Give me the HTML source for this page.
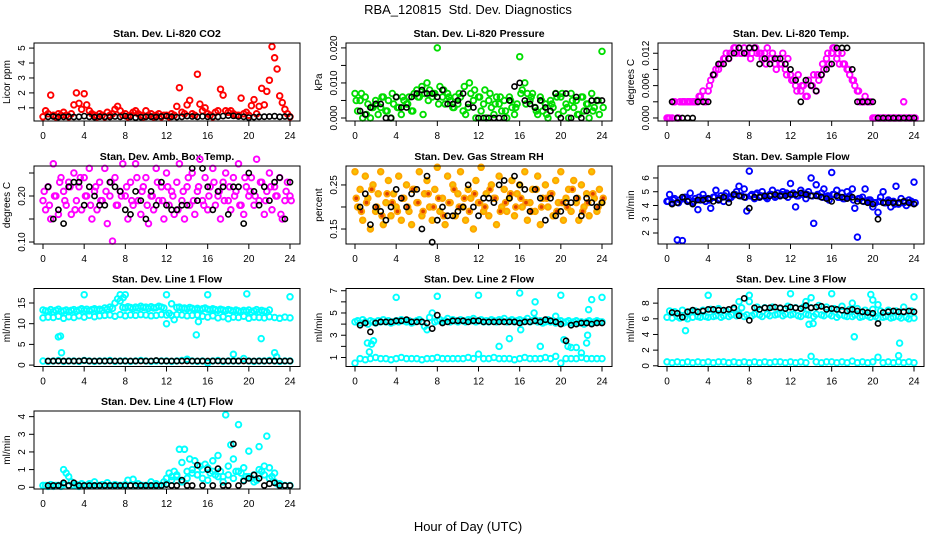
<!DOCTYPE html>
<html><head><meta charset="utf-8">
<style>
html,body{margin:0;padding:0;background:#fff;}
svg{display:block;font-family:"Liberation Sans",Arial,sans-serif;}
</style></head>
<body>
<svg id="chart" width="936" height="540" viewBox="0 0 936 540" xmlns="http://www.w3.org/2000/svg">
<rect x="0" y="0" width="936" height="540" fill="#fff"/>
<text x="468" y="14" text-anchor="middle" font-size="13" xml:space="preserve">RBA_120815&#160; Std. Dev. Diagnostics</text>
<text x="468" y="531" text-anchor="middle" font-size="13">Hour of Day (UTC)</text>
</svg>
<script>
// ---- data arrays ----
const xTicks = [0,4,8,12,16,20,24];
const co2Red = [.4,.8,.6,1.85,.5,.4,.6,.5,.7,.5,.4,.6,1.2,2.0,1.3,.9,1.95,1.2,.8,.6,.5,.4,.6,.5,.4,.7,.5,.6,.9,1.1,.8,.5,.6,.4,.5,.7,.8,.6,.5,.4,.8,.5,.6,.4,.5,.6,.4,.5,.5,.4,.6,.5,1.1,2.35,.7,.6,1.2,1.5,.6,.5,3.25,1.25,.8,1.0,.6,.5,.4,.7,.8,2.25,1.85,.8,.7,.8,.6,.5,.5,1.65,.6,.7,.5,1.15,1.55,.6,1.1,2.3,1.2,2.1,2.85,5.1,4.35,3.6,1.8,1.35,.9,.6,.4];
const co2Black = [.4,.42,.38,.4,.41,.39,.4,.45,.4,.38,.41,.4,.39,.42,.4,.45,.4,.35,.38,.4,.41,.39,.42,.45,.4,.38,.4,.45,.42,.4,.43,.4,.41,.4,.45,.48,.46,.42,.4,.35,.38,.4,.41,.42,.44,.4,.42,.4];
const presGreen = [.007,.002,.005,0,.006,.004,0,.003,.005,.001,.003,.006,.002,.005,0,.004,.006,.003,.001,.005,.004,.006,.002,.007,.008,.006,.009,.007,.010,.008,.006,.007,.020,.009,.006,.004,.007,.005,.003,.006,.004,.006,.002,.001,.003,.007,.005,0,.006,.002,.004,0,.005,.003,.001,.006,.004,.002,.005,0,.006,.003,.001,.004,.0175,.008,.010,.007,.005,.007,.003,.001,.006,.002,.004,0,.005,.003,.007,.001,.006,.002,.004,0,.007,.003,.005,.001,.006,.002,.004,0,.007,.003,.005,.001,.019];
const presGreen2 = [.005,.007,.001,.003,.004,.006,.002,.007,.003,.006,.004,.002,.006,.001,.005,.007,.004,.008,.006,.003,.007,.009,.010,.008,.006,.008,.007,.004,.006,.002,.005,.003,.007,.004,.006,.002,.005,.001,.004,.006,.007,.003,.005,.001,.006,.004,.002,.005,.003];
const presBlack = [.002,.001,.003,.004,.004,0,0,.006,.003,.003,.006,.007,.008,.007,.007,.006,.008,.004,.004,.005,.007,.004,.003,0,0,0,0,0,0,.005,.009,.010,.005,.004,.003,.005,.003,.002,.007,0,.007,0,.006,0,.002,.005,.005,.005];
const tempMag = [0,0,0,.003,0,.003,.003,.003,.003,.003,.003,.003,.003,.004,.005,.003,.005,.007,.008,.009,.009,.010,.011,.012,.011,.012,.013,.012,.013,.012,.013,.012,.013,.012,.013,.012,.012,.011,.012,.013,.011,.012,.010,.011,.010,.012,.009,.011,.008,.007,.006,.008,.005,.006,.004,.007,.006,.008,.005,.007,.008,.009,.011,.010,.012,.013,.011,.010,.012,.010,.009,.008,.007,.006,.005,.003,.003,.004,.003,.003,0,0,0,0,0,0,0,0,0,0,0,0,.003,0,0,0,0];
const tempMag2 = [0,.003,0,.003,.003,.003,.004,.003,.006,.008,.010,.011,.012,.013,.012,.012,.011,.013,.012,.010,.011,.009,.010,.008,.007,.005,.006,.004,.006,.008,.010,.012,.013,.012,.010,.009,.007,.005,.003,.003,0,0,0,0,0,0,0,0,0];
const tempBlack = [.003,0,0,0,0,.003,.003,.003,.008,.010,.010,.011,.012,.013,.012,.013,.013,.010,.011,.010,.011,.011,.010,.009,.007,.003,.007,.006,.005,.008,.009,.010,.013,.013,.013,.009,.003,.003,.003,.003,0,0,0,0,0,0,0,0];
const ambMag = [.19,.17,.22,.15,.27,.2,.16,.24,.21,.18,.23,.16,.25,.19,.22,.17,.24,.2,.26,.15,.21,.17,.23,.19,.26,.14,.2,.102,.24,.18,.21,.27,.2,.15,.23,.18,.27,.19,.16,.22,.24,.14,.2,.17,.26,.19,.22,.15,.25,.18,.21,.16,.23,.27,.19,.15,.22,.18,.25,.16,.21,.28,.19,.24,.17,.22,.26,.18,.2,.15,.23,.25,.19,.17,.24,.21,.27,.18,.16,.22,.2,.24,.18,.28,.19,.23,.16,.21,.25,.17,.22,.2,.24,.15,.19,.23,.2];
const ambMag2 = [.21,.18,.2,.23,.19,.22,.17,.24,.2,.18,.22,.19,.21,.23,.18,.2,.22,.19,.24,.21,.18,.2,.23,.19,.22,.2,.17,.21,.24,.19,.22,.18,.2,.23,.21,.19,.22,.2,.18,.24,.21,.2,.23,.19,.22,.2,.16,.21,.19];
const ambBlack = [.22,.15,.17,.14,.22,.23,.23,.18,.22,.20,.18,.18,.23,.22,.21,.17,.16,.21,.19,.15,.21,.18,.23,.18,.17,.17,.18,.18,.26,.19,.26,.22,.17,.21,.22,.16,.22,.22,.14,.25,.21,.18,.22,.19,.23,.24,.15,.23];
const rhOrange = [.28,.2,.24,.17,.27,.22,.15,.25,.19,.23,.28,.16,.21,.26,.18,.23,.2,.27,.17,.22,.25,.19,.16,.24,.21,.28,.18,.23,.26,.2,.17,.24,.29,.19,.22,.16,.27,.21,.25,.18,.23,.28,.2,.17,.24,.22,.15,.26,.21,.29,.19,.23,.18,.25,.22,.16,.27,.2,.24,.19,.22,.26,.18,.23,.25,.2,.28,.17,.21,.24,.19,.27,.16,.22,.25,.2,.23,.18,.26,.21,.28,.17,.22,.24,.19,.26,.21,.17,.25,.2,.23,.18,.28,.22,.19,.24,.21];
const rhOrange2 = [.22,.19,.21,.24,.2,.18,.23,.21,.19,.22,.2,.24,.21,.19,.23,.2,.22,.18,.21,.24,.2,.22,.19,.23,.21,.2,.24,.22,.19,.21,.23,.2,.22,.21,.19,.24,.2,.22,.23,.19,.21,.2,.24,.22,.19,.21,.23,.2,.22];
const rhBlack = [.2,.23,.16,.2,.19,.17,.2,.24,.22,.2,.23,.24,.15,.27,.12,.17,.2,.18,.18,.19,.2,.25,.2,.18,.22,.22,.21,.25,.26,.22,.27,.25,.24,.19,.24,.22,.17,.22,.18,.19,.21,.21,.22,.18,.22,.21,.2,.21];
const flowBlue = [4.3,4.8,4.2,4.5,1.5,4.4,1.45,4.6,4.3,4.9,4.2,4.5,3.7,4.4,4.8,4.3,4.5,3.8,4.6,5.1,4.4,4.7,4.3,4.9,4.5,4.6,4.8,5.0,5.4,4.7,5.2,3.6,6.5,4.8,4.5,4.9,4.6,5.0,4.7,4.5,4.8,5.1,4.6,4.9,4.7,5.0,4.8,4.6,5.6,4.9,3.9,4.7,5.1,4.8,4.5,5.0,6.0,2.7,5.5,4.7,4.9,5.2,4.6,4.4,6.4,4.8,5.1,4.6,4.9,4.5,5.0,4.7,5.2,3.8,1.7,4.5,4.6,5.2,4.3,4.4,3.9,4.2,3.5,4.6,5.0,4.2,4.4,3.9,4.3,5.4,4.1,4.5,4.2,4.0,4.4,4.3,5.7];
const flowBlue2 = [4.3,4.4,4.2,4.5,4.4,4.3,4.6,4.5,4.4,4.6,4.5,4.7,4.6,4.8,4.7,4.6,4.7,4.8,4.7,4.6,4.8,4.7,4.8,4.9,4.8,4.7,4.9,4.8,4.7,4.8,4.6,4.7,4.8,4.6,4.5,4.6,4.4,4.5,4.3,4.4,4.2,4.3,4.2,4.3,4.1,4.2,4.3,4.2,4.2];
const flowBlack = [4.1,4.2,4.6,4.3,4.1,4.4,4.4,4.5,4.3,4.4,4.6,4.2,4.8,4.7,4.6,3.8,4.6,4.6,4.7,4.7,4.8,4.7,4.7,4.8,4.8,4.9,4.8,4.7,4.7,4.6,4.5,4.3,4.7,4.6,4.5,4.6,4.3,4.3,4.2,4.1,3.0,4.2,4.2,4.2,4.2,4.3,4.2,4.1];
const l1Upper = [13.3,13.1,13.0,13.4,12.9,13.2,13.5,13.0,13.1,13.3,12.9,13.2,13.4,13.0,13.3,13.6,13.2,13.5,13.1,13.4,13.6,13.3,13.5,13.2,13.8,13.5,14.0,13.7,15.0,16.0,17.0,13.9,13.8,14.1,13.9,13.7,14.0,13.8,14.2,13.9,14.0,13.7,14.1,13.8,13.9,14.2,14.0,13.8,10.0,12.5,14.8,11.0,13.9,14.0,13.7,13.8,13.6,13.9,13.7,13.5,13.7,13.4,13.6,13.8,13.5,13.3,13.6,13.4,13.2,13.5,13.3,13.1,13.4,13.2,13.0,13.3,13.1,12.9,13.2,13.0,13.3,12.8,13.1,13.4,12.9,13.2,13.0,12.8,13.3];
const l1Lower = [11.4,11.6,11.5,11.8,11.3,11.7,11.5,11.9,11.6,12.0,11.7,11.9,12.0,12.1,11.8,12.2,11.9,12.1,12.0,12.2,12.1,11.9,12.0,12.2,12.1,12.0,12.2,12.1,11.9,12.0,12.1,11.8,11.6,11.9,11.4,11.7,11.2,11.6,11.5,11.8,11.3,11.6,11.5,11.4,11.7,11.5,11.3,11.6,11.4];
const l1Base = [1.0,0.9,1.0,1.1,0.9,1.0,1.0,0.9,1.1,1.0,0.9,1.0,1.0,1.1,0.9,1.0,1.0,0.9,1.0,1.1,1.0,0.9,1.0,1.0,1.0,0.9,1.0,1.1,1.4,1.0,0.9,1.0,0.5,1.0,1.1,0.9,1.0,1.0,1.0,1.6,1.0,0.9,1.0,1.0,1.1,1.0,0.9,1.0,1.0];
const l1ExtraHr = [1.5,1.7,1.8,4,8,12,16,19.8,21.2,22.5,22.7,24,18.5,7.5,7.8,14.9,15.1];
const l1ExtraVal = [6.8,7,3,17,17,17,17,17.2,6.4,3,2,16.5,2.6,15.5,16.3,7.3,10.5];
const l1Black = [1,1,1,1,1,1,1,1.1,1,1,1,1,1,1,1,1,1,1,1,1,1,1.1,1,1,1,1,1,1,1,1,1,1,1,1,1,1,1,1,1,1,1,1,1,1,1,1,1,1];
const l2Upper = [4.2,4.3,4.1,4.4,4.2,4.0,4.3,4.2,4.1,4.3,4.2,4.4,4.2,4.3,4.1,4.2,4.3,4.2,4.4,4.3,4.2,4.3,4.1,4.2,4.3,4.4,4.2,3.8,3.5,4.6,5.0,4.2,4.3,4.4,4.2,4.3,4.5,4.2,4.4,4.3,4.2,4.4,4.3,4.2,4.4,4.3,4.5,4.2,4.3,4.4,4.2,4.3,4.2,4.4,4.3,4.2,4.4,4.3,4.5,4.2,4.3,4.4,4.2,4.3,4.4,4.2,4.3,4.5,4.2,4.3,4.4,4.2,4.3,4.1,4.2,4.4,4.2,4.3,4.1,4.2,4.3,4.1,4.2,4.3,4.1,4.2,4.3,4.1,4.2,4.0,4.2,4.3,4.1,4.2,4.3,4.2,4.2];
const l2Lower = [0.5,0.9,0.8,0.9,1.0,0.9,0.9,0.8,0.9,1.0,0.9,0.9,0.9,0.8,0.9,0.9,1.0,0.9,0.9,0.9,0.9,0.9,1.0,0.9,1.3,0.9,0.9,1.0,0.9,0.9,0.9,0.8,0.9,1.0,0.9,0.9,0.9,1.0,0.9,1.1,0.5,0.9,0.9,0.9,1.0,0.9,0.9,0.9,0.9];
const l2ExtraHr = [1.2,1.4,1.6,1.8,4,8,12,14,15,16,17.5,18,19.5,20,20.3,20.7,21,21.5,22,22.5,22.7,23,24,16.1,17.4,22.6];
const l2ExtraVal = [2.3,1.5,2.2,2.5,6.4,6.5,6.6,2,2.7,6.8,6,2,4.7,6.6,2.6,2,1.9,1.9,1.4,2.3,5.3,6.2,6.4,3.5,5.0,3.0];
const l2Black = [3.9,4.1,3.3,4.1,4.2,4.2,4.2,4.3,4.3,4.4,4.2,4.2,4.2,4.1,3.6,4.8,4.1,4.2,4.3,4.3,4.3,4.2,4.3,4.3,4.2,4.2,4.2,4.2,4.2,4.2,4.2,4.1,4.2,4.2,4.3,4.2,4.4,4.3,4.2,4.0,2.5,3.9,4.0,4.1,4.1,4.0,4.1,4.1];
const l3Upper = [6.2,7.0,6.1,6.9,6.3,6.1,7.1,6.2,6.0,6.9,6.2,7.0,6.3,6.2,7.1,6.3,6.2,7.2,6.3,6.4,7.3,6.2,6.4,7.0,6.3,6.5,7.2,6.4,6.6,7.4,6.3,6.5,8.2,6.4,6.6,7.5,6.5,6.3,7.4,6.6,6.4,7.5,6.5,6.6,7.3,6.4,6.6,7.6,6.5,6.6,7.4,6.4,6.3,7.5,6.6,6.5,7.4,6.3,6.6,7.7,6.5,6.4,7.5,6.6,6.4,7.3,6.2,6.5,7.6,6.4,6.3,7.2,6.3,6.5,7.3,6.2,6.3,7.1,6.4,6.2,7.2,6.3,6.1,7.0,6.2,6.3,7.1,6.1,6.2,7.0,6.3,6.1,7.5,6.2,6.0,7.0,6.1];
const l3Lower = [0.5,0.4,0.5,0.4,0.5,0.4,0.5,0.4,0.5,0.4,0.5,0.5,0.4,0.5,0.4,0.5,0.4,0.5,0.4,0.5,0.4,0.5,0.5,0.4,0.5,0.4,0.5,0.4,1.2,0.5,0.4,0.5,0.5,0.4,0.5,0.4,0.6,0.4,0.5,0.4,0.5,1.1,0.4,0.5,0.4,0.5,0.4,0.5,0.4];
const l3ExtraHr = [1.8,4,7,8,12,13.5,14,16,18,18.2,19.8,20,20.5,22.5,22.6,24,13.8,14.2];
const l3ExtraVal = [4.5,9,8.2,9,9.2,8.2,8.7,9.2,8.0,3.7,9.1,8.4,7.8,1.3,2.9,8.8,5.3,5.4];
const l3Black = [6.8,6.7,6.2,6.9,7.1,6.9,7.0,7.2,7.2,7.1,7.1,7.2,7.4,6.4,8.6,5.8,7.4,7.2,7.4,7.4,7.5,7.4,7.3,7.5,7.4,7.3,7.7,7.4,7.5,7.6,7.2,7.3,7.2,7.1,7.0,7.2,7.0,6.9,6.8,6.7,5.4,6.8,6.9,7.0,6.9,6.9,7.0,6.9];
const l4Cyan = [.1,.1,.05,.15,.1,.1,.1,.05,1.0,.8,.6,.3,.1,.15,.1,.2,.1,.1,.2,.1,.3,.1,.1,.15,.1,.25,.1,.1,.15,.1,.1,.1,.15,.4,.1,.45,.1,.2,.1,.1,.1,.1,.3,.1,.2,.1,.1,.3,.5,.8,.6,.9,.7,2.15,1.4,2.15,.9,1.6,1.0,1.5,.7,1.2,.5,1.3,1.1,.8,1.5,.7,1.8,.9,.6,4.1,1.2,2.4,1.6,.9,3.55,.8,1.1,.6,2.05,.5,.7,.4,2.3,.9,1.2,2.9,1.1,.6,.3,.2,.1];
const l4Base = [.1,.1,.05,.1,.15,.1,.1,.05,.1,.1,.1,.1,.1,.1,.1,.1,.1,.1,.1,.1,.1,.1,.1,.1,.2,.4,.6,.3,.5,.8,.7,1.0,.4,.9,.6,.3,.7,.5,.9,.4,.6,.3,1.0,.7,.5,.8,.2,.1,.1];
const l4Black = [.1,.1,.1,.25,.1,.25,.1,.1,.1,.1,.1,.1,.1,.1,.1,.1,.1,.1,.1,.1,.1,.1,.1,.15,.1,.1,.4,.1,.1,1.25,.1,1.0,.1,1.05,.1,.1,2.45,.1,.35,.5,.7,.5,.1,.2,.25,.1,.1,.1];

// ---- layout ----
const colLeft = [34,346,658];
const rowTop = [43,166,288.5,411];
const BW = 266, BH = 78;
const NS = 'http://www.w3.org/2000/svg';
const svg = document.getElementById('chart');
function mk(tag, attrs, parent){ const e=document.createElementNS(NS,tag); for(const k in attrs) e.setAttribute(k,attrs[k]); (parent||svg).appendChild(e); return e; }

const panels = [
 {title:'Stan. Dev. Li-820 CO2', yt:'Licor ppm', r:0,c:0, ymin:0.12, ymax:5.34, ticks:[1,2,3,4,5], labels:['1','2','3','4','5'],
  series:[{v:co2Red,s:0,d:0.25,col:'#ff0000'},{v:co2Black,s:0.5,d:0.5,col:'#000'}]},
 {title:'Stan. Dev. Li-820 Pressure', yt:'kPa', r:0,c:1, ymin:-0.00086, ymax:0.0214, ticks:[0,.005,.01,.015,.02], labels:['0.000','','0.010','','0.020'],
  series:[{v:presGreen,s:0,d:0.25,col:'#00dd00'},{v:presGreen2,s:0.12,d:0.5,col:'#00dd00'},{v:presBlack,s:0.5,d:0.5,col:'#000'}]},
 {title:'Stan. Dev. Li-820 Temp.', yt:'degrees C', r:0,c:2, ymin:-0.00056, ymax:0.0139, ticks:[0,.003,.006,.009,.012], labels:['0.000','','0.006','','0.012'],
  series:[{v:tempMag,s:0,d:0.25,col:'#ff00ff'},{v:tempMag2,s:0.12,d:0.5,col:'#ff00ff'},{v:tempBlack,s:0.5,d:0.5,col:'#000'}]},
 {title:'Stan. Dev. Amb. Box Temp.', yt:'degrees C', r:1,c:0, ymin:0.0957, ymax:0.2652, ticks:[.1,.15,.2,.25], labels:['0.10','','0.20',''],
  series:[{v:ambMag,s:0,d:0.25,col:'#ff00ff'},{v:ambMag2,s:0.12,d:0.5,col:'#ff00ff'},{v:ambBlack,s:0.5,d:0.5,col:'#000'}]},
 {title:'Stan. Dev. Gas Stream RH', yt:'percent', r:1,c:1, ymin:0.116, ymax:0.293, ticks:[.15,.2,.25], labels:['0.15','','0.25'],
  series:[{v:rhOrange,s:0,d:0.25,col:'#ffa500',fill:'#f5c400'},{v:rhOrange2,s:0.12,d:0.5,col:'#ffa500',fill:'#e04000'},{v:rhBlack,s:0.5,d:0.5,col:'#000'}]},
 {title:'Stan. Dev. Sample Flow', yt:'ml/min', r:1,c:2, ymin:1.2, ymax:6.87, ticks:[2,3,4,5,6], labels:['2','3','4','5','6'],
  series:[{v:flowBlue,s:0,d:0.25,col:'#0000ff'},{v:flowBlue2,s:0.12,d:0.5,col:'#0000ff'},{v:flowBlack,s:0.5,d:0.5,col:'#000'}]},
 {title:'Stan. Dev. Line 1 Flow', yt:'ml/min', r:2,c:0, ymin:-0.34, ymax:18.5, ticks:[0,5,10,15], labels:['0','5','10','15'],
  series:[{v:l1Upper,s:0,d:0.25,col:'#00ffff'},{v:l1Lower,s:0,d:0.5,col:'#00ffff'},{v:l1Base,s:0,d:0.5,col:'#00ffff'},{x:l1ExtraHr,v:l1ExtraVal,col:'#00ffff'},{v:l1Black,s:0.5,d:0.5,col:'#000'}]},
 {title:'Stan. Dev. Line 2 Flow', yt:'ml/min', r:2,c:1, ymin:0.19, ymax:7.2, ticks:[1,2,3,4,5,6,7], labels:['1','','3','','5','','7'],
  series:[{v:l2Upper,s:0,d:0.25,col:'#00ffff'},{v:l2Lower,s:0,d:0.5,col:'#00ffff'},{x:l2ExtraHr,v:l2ExtraVal,col:'#00ffff'},{v:l2Black,s:0.5,d:0.5,col:'#000'}]},
 {title:'Stan. Dev. Line 3 Flow', yt:'ml/min', r:2,c:2, ymin:-0.09, ymax:9.87, ticks:[0,2,4,6,8], labels:['0','2','4','6','8'],
  series:[{v:l3Upper,s:0,d:0.25,col:'#00ffff'},{v:l3Lower,s:0,d:0.5,col:'#00ffff'},{x:l3ExtraHr,v:l3ExtraVal,col:'#00ffff'},{v:l3Black,s:0.5,d:0.5,col:'#000'}]},
 {title:'Stan. Dev. Line 4 (LT) Flow', yt:'ml/min', r:3,c:0, ymin:-0.1, ymax:4.32, ticks:[0,1,2,3,4], labels:['0','1','2','3','4'],
  series:[{v:l4Cyan,s:0,d:0.25,col:'#00ffff'},{v:l4Base,s:0,d:0.5,col:'#00ffff'},{v:l4Black,s:0.5,d:0.5,col:'#000'}]}
];

panels.forEach((p,pi)=>{
  const L = colLeft[p.c], T = rowTop[p.r];
  const g = mk('g',{});
  
  
  const xs = h => L + 9 + h*(247/24);
  const ys = v => T + BH - (v - p.ymin)/(p.ymax - p.ymin)*BH;
  const t = mk('text',{x:L+BW/2, y:T-6, 'text-anchor':'middle','font-size':'10.5','font-weight':'bold'},g);
  t.textContent = p.title;
  
  
  const pts = mk('g',{},g);
  
  
  p.series.forEach(s=>{
    const black = s.col === '#000';
    s.v.forEach((val,i)=>{
      const h = s.x ? s.x[i] : s.s + i*s.d;
      if (h > 24.2) return;
      const c = mk('circle',{cx:xs(h).toFixed(1), cy:ys(val).toFixed(1), r:black?2.6:2.8, fill:s.fill||'none', stroke:s.col, 'stroke-width':black?1.6:1.9},pts);
      
      
    });
  });
  const b = mk('rect',{x:L, y:T, width:BW, height:BH, fill:'none', stroke:'#000','stroke-width':1},g);
  
  
  const xa = mk('g',{},g);
  
  
  mk('line',{x1:xs(0),x2:xs(24),y1:T+BH,y2:T+BH,stroke:'#000'},xa);
  xTicks.forEach(h=>{
    mk('line',{x1:xs(h),x2:xs(h),y1:T+BH,y2:T+BH+5,stroke:'#000'},xa);
    const lt = mk('text',{x:xs(h),y:T+BH+18,'text-anchor':'middle','font-size':'10'},xa);
    lt.textContent = h;
    
    
  });
  const ya = mk('g',{},g);
  
  
  p.ticks.forEach((v,i)=>{
    const y = ys(v);
    mk('line',{x1:L-5,x2:L,y1:y,y2:y,stroke:'#000'},ya);
    if (p.labels[i]) {
      const lt = mk('text',{x:L-9,y:y,'text-anchor':'middle','font-size':'10',transform:`rotate(-90 ${L-9} ${y})`},ya);
      lt.textContent = p.labels[i];
      
      
    }
  });
  const yt = mk('text',{x:L-24,y:T+BH/2,'text-anchor':'middle','font-size':'10',transform:`rotate(-90 ${L-24} ${T+BH/2})`},g);
  yt.textContent = p.yt;
  
  
});
</script>
</body></html>
